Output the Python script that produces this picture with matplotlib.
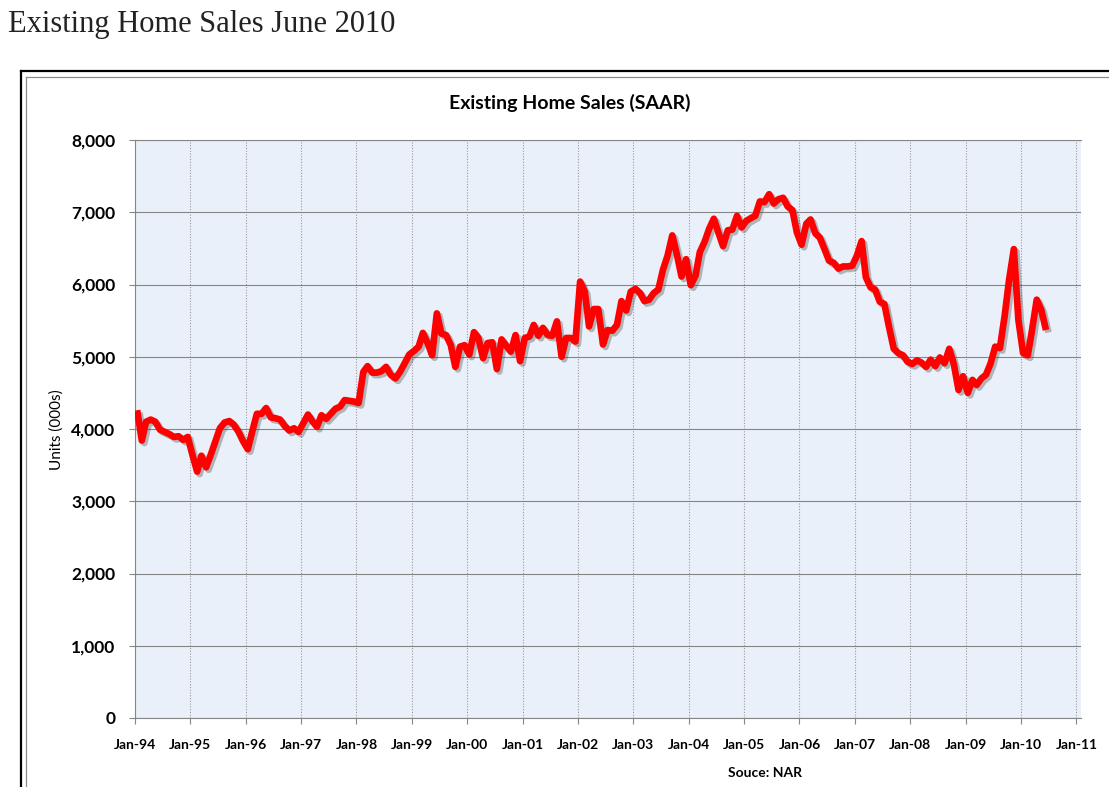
import numpy as np
import pandas as pd
import matplotlib
matplotlib.use("Agg")
import matplotlib.pyplot as plt
import matplotlib.patheffects as pe
from matplotlib.lines import Line2D
from matplotlib.ticker import FuncFormatter

# Existing home sales, SAAR, thousands of units, monthly Jan-1994 .. Jun-2010
sales_1994 = [4260, 3840, 4100, 4130, 4100, 3990, 3960, 3930, 3890, 3900, 3850, 3890]
sales_1995 = [3640, 3410, 3630, 3470, 3640, 3830, 4010, 4090, 4110, 4060, 3960, 3830]
sales_1996 = [3720, 3980, 4210, 4210, 4290, 4160, 4150, 4130, 4040, 3980, 4010, 3960]
sales_1997 = [4080, 4200, 4110, 4030, 4190, 4140, 4210, 4280, 4310, 4400, 4390, 4380]
sales_1998 = [4360, 4790, 4870, 4780, 4780, 4800, 4860, 4750, 4700, 4790, 4910, 5030]
sales_1999 = [5080, 5140, 5330, 5190, 5020, 5600, 5320, 5300, 5160, 4860, 5140, 5160]
sales_2000 = [5030, 5340, 5260, 4980, 5190, 5200, 4830, 5240, 5150, 5070, 5300, 4940]
sales_2001 = [5260, 5280, 5440, 5290, 5400, 5300, 5290, 5490, 5000, 5260, 5260, 5210]
sales_2002 = [6040, 5900, 5420, 5660, 5660, 5170, 5370, 5360, 5440, 5770, 5640, 5900]
sales_2003 = [5940, 5880, 5770, 5790, 5880, 5930, 6200, 6400, 6680, 6420, 6110, 6350]
sales_2004 = [5990, 6120, 6450, 6590, 6770, 6910, 6720, 6530, 6750, 6760, 6950, 6790]
sales_2005 = [6880, 6920, 6950, 7150, 7140, 7250, 7120, 7180, 7200, 7080, 7030, 6720]
sales_2006 = [6550, 6840, 6900, 6710, 6650, 6490, 6330, 6300, 6220, 6250, 6250, 6260]
sales_2007 = [6400, 6600, 6100, 5960, 5930, 5760, 5730, 5410, 5110, 5050, 5020, 4930]
sales_2008 = [4900, 4950, 4920, 4860, 4960, 4870, 4990, 4910, 5110, 4900, 4540, 4730]
sales_2009 = [4500, 4680, 4610, 4700, 4750, 4910, 5140, 5120, 5560, 6070, 6490, 5510]
sales_2010 = [5050, 5020, 5370, 5790, 5650, 5370]

sales = (sales_1994 + sales_1995 + sales_1996 + sales_1997 + sales_1998 + sales_1999
         + sales_2000 + sales_2001 + sales_2002 + sales_2003 + sales_2004 + sales_2005
         + sales_2006 + sales_2007 + sales_2008 + sales_2009 + sales_2010)

year_labels = ["Jan-94", "Jan-95", "Jan-96", "Jan-97", "Jan-98", "Jan-99", "Jan-00",
               "Jan-01", "Jan-02", "Jan-03", "Jan-04", "Jan-05", "Jan-06", "Jan-07",
               "Jan-08", "Jan-09", "Jan-10", "Jan-11"]
y_ticks = [0, 1000, 2000, 3000, 4000, 5000, 6000, 7000, 8000]

months = pd.date_range("1994-01-01", periods=len(sales), freq="MS") + pd.Timedelta(days=14)
year_ticks = pd.date_range("1994-01-01", periods=len(year_labels), freq="YS")

W, H = 1109, 787
fig = plt.figure(figsize=(W / 100, H / 100), dpi=100)
fig.patch.set_facecolor("white")

# page heading
fig.text(8 / W, 1 - 32 / H, "Existing Home Sales June 2010", fontsize=22,
         family="Liberation Serif", color="#222222", ha="left", va="baseline")

# chart frame (outer black, inner grey)
fig.add_artist(Line2D([21 / W, 21 / W], [0, 1 - 71 / H], color="black", lw=1.6))
fig.add_artist(Line2D([21 / W, 1], [1 - 71 / H, 1 - 71 / H], color="black", lw=1.6))
fig.add_artist(Line2D([26 / W, 26 / W], [0, 1 - 77 / H], color="#8c8c8c", lw=0.9))
fig.add_artist(Line2D([26 / W, 1], [1 - 77 / H, 1 - 77 / H], color="#8c8c8c", lw=0.9))

ax = fig.add_axes([135 / W, 1 - 718 / H, (1081 - 135) / W, (718 - 140) / H])
ax.set_facecolor("#E9F0F9")

line, = ax.plot(months, sales, color="#FF0000", lw=4.8, solid_joinstyle="round",
                solid_capstyle="butt", zorder=5)
line.set_path_effects([pe.SimpleLineShadow(offset=(1.8, -1.8), shadow_color="#444444", alpha=0.35),
                       pe.Normal()])

ax.set_ylim(0, 8000)
ax.set_xlim(year_ticks[0], pd.Timestamp("2011-02-01"))
ax.set_yticks(y_ticks)
ax.yaxis.set_major_formatter(FuncFormatter(lambda v, p: f"{int(v):,}"))
ax.set_xticks(year_ticks)
ax.set_xticklabels(year_labels)

for lab in ax.get_yticklabels():
    lab.set_fontweight("bold")
    lab.set_family("Lato")
    lab.set_fontsize(12.5)
for lab in ax.get_xticklabels():
    lab.set_fontweight("bold")
    lab.set_family("Lato")
    lab.set_fontsize(10)

ax.tick_params(axis="y", length=4, width=0.8, color="#868686", pad=10)
ax.tick_params(axis="x", length=4, width=0.8, color="#868686", pad=11)

ax.grid(axis="y", color="#868686", lw=0.8, zorder=1)
ax.grid(axis="x", color="#9a9a9a", lw=0.8, linestyle=(0, (1, 1.5)), zorder=1)
ax.set_axisbelow(True)

ax.spines["right"].set_visible(False)
for side in ["left", "bottom", "top"]:
    ax.spines[side].set_color("#868686")
    ax.spines[side].set_linewidth(0.8)

fig.text(570 / W, 1 - 103 / H, "Existing Home Sales (SAAR)", fontsize=14,
         fontweight="bold", family="Lato", ha="center", va="center")
fig.text(57 / W, 1 - 430 / H, "Units (000s)", fontsize=11, family="Lato",
         rotation=90, ha="center", va="center")
fig.text(765 / W, 1 - 773 / H, "Souce: NAR", fontsize=10, fontweight="bold",
         family="Lato", ha="center", va="center")

fig.savefig("out.png", dpi=100)
